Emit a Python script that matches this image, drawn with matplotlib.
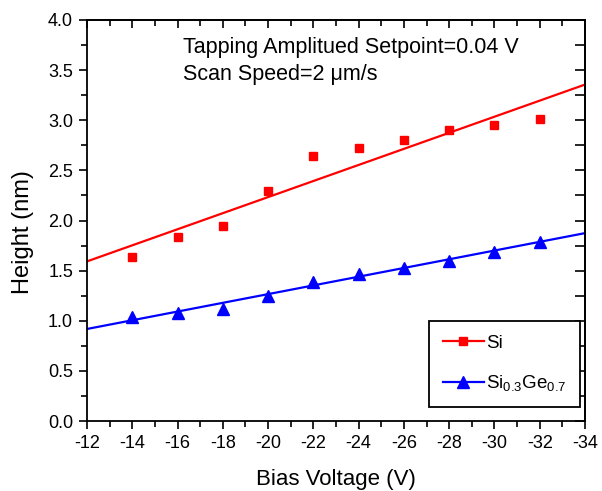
import numpy as np
import matplotlib
matplotlib.use("Agg")
import matplotlib.pyplot as plt
from matplotlib.ticker import MultipleLocator, FuncFormatter, FormatStrFormatter

plt.rcParams['font.family'] = ['Liberation Sans', 'DejaVu Sans']
plt.rcParams['mathtext.fontset'] = 'custom'
plt.rcParams['mathtext.rm'] = 'Liberation Sans'
plt.rcParams['mathtext.it'] = 'Liberation Sans:italic'

bias = [-14, -16, -18, -20, -22, -24, -26, -28, -30, -32]
si_height = [1.64, 1.84, 1.95, 2.29, 2.64, 2.72, 2.80, 2.90, 2.95, 3.01]
sige_height = [1.04, 1.08, 1.12, 1.25, 1.39, 1.47, 1.53, 1.60, 1.69, 1.79]
fit_range = [-12, -34]

fig = plt.figure(figsize=(6.02, 4.91), dpi=100)
ax = fig.add_axes([87/602, 1-421/491, 498/602, 401/491])

xf = np.array(fit_range, dtype=float)
p_si = np.polyfit(bias, si_height, 1)
p_sige = np.polyfit(bias, sige_height, 1)

ax.plot(xf, np.polyval(p_si, xf), color='#ff0000', lw=1.6)
ax.plot(xf, np.polyval(p_sige, xf), color='#0000ff', lw=1.6)
ax.plot(bias, si_height, 's', color='#ff0000', ms=6, ls='none')
ax.plot(bias, sige_height, '^', color='#0000ff', ms=8.5, ls='none')

# legend proxies
h1, = ax.plot([], [], color='#ff0000', lw=1.6, marker='s', ms=6)
h2, = ax.plot([], [], color='#0000ff', lw=1.6, marker='^', ms=8.5)
leg = ax.legend([h1, h2], ['Si', r'$\mathregular{Si_{0.3}Ge_{0.7}}$'],
                loc='lower right', bbox_to_anchor=(0.99, 0.035), borderaxespad=0,
                fontsize=13.5, frameon=True, fancybox=False, framealpha=1,
                edgecolor='black', handlelength=2.2, borderpad=0.72,
                labelspacing=1.15, handletextpad=0.12)
leg.get_frame().set_linewidth(1.3)

ax.set_xlim(-12, -34)
ax.set_ylim(0, 4.0)
ax.xaxis.set_major_locator(MultipleLocator(2))
ax.xaxis.set_minor_locator(MultipleLocator(1))
ax.yaxis.set_major_locator(MultipleLocator(0.5))
ax.yaxis.set_minor_locator(MultipleLocator(0.25))
ax.xaxis.set_major_formatter(FuncFormatter(lambda v, p: f"{int(round(v))}"))
ax.yaxis.set_major_formatter(FormatStrFormatter('%.1f'))
ax.tick_params(which='both', direction='out', top=False, right=False,
               labelsize=13, width=1.2)
ax.tick_params(which='major', length=6, pad=4)
ax.tick_params(which='minor', length=4)

# mirrored inward ticks on top and right
top = ax.secondary_xaxis('top')
top.xaxis.set_major_locator(MultipleLocator(2))
top.xaxis.set_minor_locator(MultipleLocator(1))
top.tick_params(which='both', direction='in', labeltop=False, width=1.2)
top.tick_params(which='major', length=6)
top.tick_params(which='minor', length=4)
right = ax.secondary_yaxis('right')
right.yaxis.set_major_locator(MultipleLocator(0.5))
right.yaxis.set_minor_locator(MultipleLocator(0.25))
right.tick_params(which='both', direction='in', labelright=False, width=1.2)
right.tick_params(which='major', length=7)
right.tick_params(which='minor', length=7)

for s in ax.spines.values():
    s.set_linewidth(1.3)
top.spines['top'].set_linewidth(1.3)
right.spines['right'].set_linewidth(1.3)

ax.set_xlabel('Bias Voltage (V)', fontsize=16, labelpad=12)
ax.set_ylabel('Height (nm)', fontsize=17)
ax.yaxis.set_label_coords(-0.107, 0.47)

ax.text(0.193, 0.932, 'Tapping Amplitued Setpoint=0.04 V', transform=ax.transAxes,
        fontsize=15.5, va='center')
ax.text(0.193, 0.864, 'Scan Speed=2 \u03bcm/s', transform=ax.transAxes,
        fontsize=15.5, va='center')

fig.savefig('out.png', dpi=100)
